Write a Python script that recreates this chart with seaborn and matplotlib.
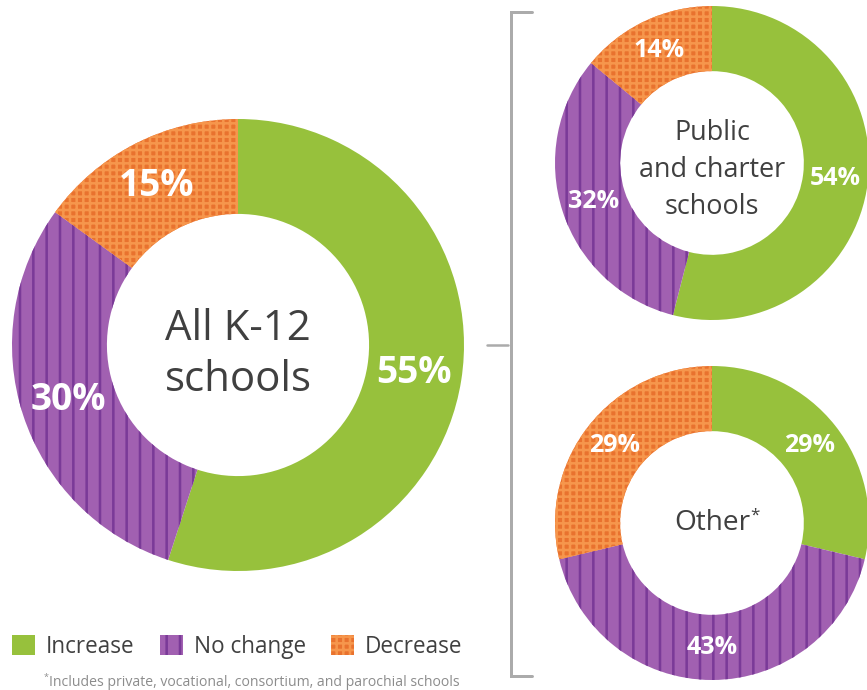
import numpy as np
import matplotlib
matplotlib.use("Agg")
import matplotlib.pyplot as plt
from matplotlib.patches import Patch
import seaborn as sns

# ---- data -------------------------------------------------------------
categories = ["Increase", "No change", "Decrease"]
all_k12 = [55, 30, 15]
public_charter = [54, 32, 14]
other = [29, 43, 29]
titles = ["All K-12\nschools", "Public\nand charter\nschools", "Other"]
footnote = "Includes private, vocational, consortium, and parochial schools"

# ---- style ------------------------------------------------------------
DPI = 80
W, H = 867, 690

sns.set_theme(style="white")
plt.rcParams["font.family"] = ["Open Sans", "DejaVu Sans"]
plt.rcParams["hatch.linewidth"] = 2.3

face_colors = sns.color_palette(["#97C13C", "#A160B1", "#E9722E"])
hatch_colors = ["#97C13C", "#7A3A98", "#F6964C"]
hatches = ["", "|", "++"]
TEXT = "#404040"
GREY = "#ABABAB"


def pt(px):
    """Convert a pixel size to points for the chosen dpi."""
    return px * 72 / DPI


def box(cx, cy, r):
    """Axes rectangle (figure fraction) for a donut centred at cx, cy (px from top-left)."""
    return [(cx - r) / W, (H - cy - r) / H, 2 * r / W, 2 * r / H]


fig = plt.figure(figsize=(W / DPI, H / DPI), dpi=DPI)
fig.patch.set_facecolor("white")


def donut(rect, values, title, title_px, label_px, hole, linespacing=1.2,
          title_y=0.0):
    ax = fig.add_axes(rect)
    wedges, _ = ax.pie(values, colors=face_colors, startangle=90,
                       counterclock=False, radius=1, hatch=hatches,
                       wedgeprops=dict(width=1 - hole, linewidth=0))
    for w, hc in zip(wedges, hatch_colors):
        w.set_edgecolor(hc)
        w.set_linewidth(0)
    ax.set_xlim(-1, 1)
    ax.set_ylim(-1, 1)
    ax.set_aspect("equal")
    ax.axis("off")
    rmid = (1 + hole) / 2
    for w, v in zip(wedges, values):
        ang = np.deg2rad((w.theta1 + w.theta2) / 2)
        ax.text(rmid * np.cos(ang), rmid * np.sin(ang), f"{v}%",
                ha="center", va="center", color="white",
                fontsize=pt(label_px), fontweight="bold", clip_on=False)
    t = ax.text(0, title_y, title, ha="center", va="center", color=TEXT,
                fontsize=pt(title_px), linespacing=linespacing)
    return ax, t


donut(box(238, 345, 226), all_k12, titles[0], 42, 37, hole=0.58,
      linespacing=1.3, title_y=-0.042)
donut(box(712, 163, 157), public_charter, titles[1], 27, 25, hole=0.585,
      linespacing=1.42, title_y=-0.045)
ax_o, t_o = donut(box(712, 523, 157), other, titles[2], 28, 25, hole=0.585)
ax_o.annotate("*", xy=(1, 1), xycoords=t_o, xytext=(0.5, 1),
              textcoords="offset points", ha="left", va="top",
              fontsize=pt(17), color=TEXT)

# ---- overlay: bracket, legend, footnote -------------------------------
ov = fig.add_axes([0, 0, 1, 1], zorder=-1)
ov.set_xlim(0, W)
ov.set_ylim(H, 0)
ov.axis("off")
ov.plot([532, 510.5, 510.5, 532], [12, 12, 676, 676], color=GREY, lw=pt(3),
        solid_joinstyle="miter")
ov.plot([487, 508], [345, 345], color=GREY, lw=pt(2.5))

handles = [Patch(facecolor=f, edgecolor=h, hatch=hs, linewidth=0)
           for f, h, hs in zip(face_colors, hatch_colors, hatches)]
fig.legend(handles, categories, loc="lower left",
           bbox_to_anchor=(12 / W, 31 / H), ncol=3, frameon=False,
           fontsize=pt(22.5), labelcolor=TEXT, handlelength=1.02,
           handleheight=0.98, handletextpad=0.5, columnspacing=1.1,
           borderpad=0, borderaxespad=0)

ov.text(49, 686, footnote, ha="left", va="baseline", fontsize=pt(14),
        color="#8C8C8C")
ov.text(43.5, 680, "*", ha="left", va="baseline", fontsize=pt(9),
        color="#8C8C8C")

fig.savefig("out.png", dpi=DPI, facecolor="white")
